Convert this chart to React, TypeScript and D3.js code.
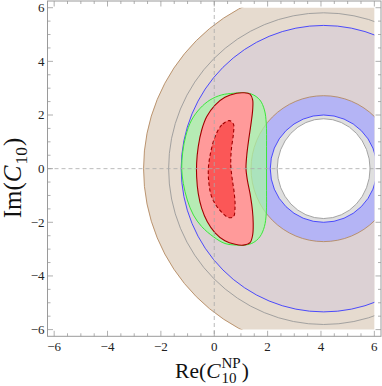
import React, { useEffect, useRef } from "react";
import * as d3 from "d3";

const width = 382;
const height = 386;

// rings are centred on -C10^SM on the real axis
const ringCenter: [number, number] = [4.1, 0];
const tanRadii = [2.72, 6.75];
const blueRadii = [2.0, 5.34];
const grayOuterRadius = 5.81;
const grayInnerRadii: [number, number] = [1.74, 1.86];

// contours, [Re, Im]
const greenBoundary: [number, number][] = [
  [1.03, 2.83], [1.4, 2.78], [1.71, 2.56], [1.88, 2.19], [1.95, 1.69], [1.96, 0.82],
  [1.96, 0.0], [1.96, -0.81], [1.95, -1.66], [1.88, -2.16], [1.71, -2.54], [1.46, -2.76],
  [1.15, -2.85], [0.84, -2.85], [0.4, -2.79], [-0.03, -2.54], [-0.47, -2.16], [-0.78, -1.73],
  [-1.01, -1.17], [-1.16, -0.55], [-1.22, 0.0], [-1.18, 0.63], [-1.06, 1.25], [-0.85, 1.81],
  [-0.53, 2.25], [-0.16, 2.56], [0.28, 2.75], [0.72, 2.81],
];

const redBoundary: [number, number][] = [
  [1.09, 2.83], [0.84, 2.81], [0.4, 2.66], [0.03, 2.37], [-0.28, 1.94], [-0.47, 1.44],
  [-0.6, 0.82], [-0.66, 0.2], [-0.66, -0.3], [-0.6, -0.92], [-0.47, -1.48], [-0.26, -1.98],
  [0.03, -2.39], [0.4, -2.69], [0.78, -2.82], [1.09, -2.85], [1.34, -2.76], [1.44, -2.47],
  [1.46, -2.04], [1.43, -1.54], [1.34, -0.92], [1.24, -0.42], [1.19, 0.01], [1.22, 0.51],
  [1.29, 1.07], [1.38, 1.69], [1.44, 2.19], [1.44, 2.56], [1.34, 2.78],
];

const redCoreBoundary: [number, number][] = [
  [0.57, 1.79], [0.28, 1.63], [0.03, 1.19], [-0.13, 0.63], [-0.22, 0.01], [-0.2, -0.55],
  [-0.1, -1.04], [0.15, -1.48], [0.53, -1.82], [0.72, -1.79], [0.78, -1.42], [0.75, -0.92],
  [0.67, -0.36], [0.62, 0.14], [0.64, 0.7], [0.72, 1.32], [0.72, 1.66],
];

const xTickLabels = [-6, -4, -2, 0, 2, 4, 6];
const yTickLabels = [-6, -4, -2, 0, 2, 4, 6];

const serif = "'Liberation Serif', 'DejaVu Serif', serif";

export default function App() {
  const ref = useRef<SVGSVGElement>(null);

  useEffect(() => {
    const svg = d3.select(ref.current);
    svg.selectAll("*").remove();

    const x = d3.scaleLinear().domain([-6.25, 6.25]).range([47.5, 381]);
    const y = d3.scaleLinear().domain([-6.25, 6.25]).range([336.3, 1]);

    svg
      .append("clipPath")
      .attr("id", "plotClip")
      .append("rect")
      .attr("x", x(-6))
      .attr("y", y(6))
      .attr("width", x(6) - x(-6))
      .attr("height", y(-6) - y(6));

    const g = svg.append("g").attr("clip-path", "url(#plotClip)");

    const [cx, cy] = ringCenter;
    const ellipse = (rx: number, ry: number, fill: string, stroke: string) =>
      g
        .append("ellipse")
        .attr("cx", x(cx))
        .attr("cy", y(cy))
        .attr("rx", x(cx + rx) - x(cx))
        .attr("ry", y(cy) - y(cy + ry))
        .attr("fill", fill)
        .attr("stroke", stroke)
        .attr("stroke-width", 0.9);

    // annuli, painted from the outside in
    ellipse(tanRadii[1], tanRadii[1], "#e6dbcf", "#b48a62");
    ellipse(blueRadii[1], blueRadii[1], "#dcd1d4", "none");
    ellipse(tanRadii[0], tanRadii[0], "#b4b4f5", "#b48a62");
    ellipse(blueRadii[0], blueRadii[0], "#dfdfdf", "none");
    ellipse(grayInnerRadii[0], grayInnerRadii[1], "#ffffff", "#9a9a9a");
    ellipse(grayOuterRadius, grayOuterRadius, "none", "#9a9a9a");
    ellipse(blueRadii[1], blueRadii[1], "none", "#3a3aff");
    ellipse(blueRadii[0], blueRadii[0], "none", "#3a3aff");

    const line = d3
      .line<[number, number]>()
      .x((d) => x(d[0]))
      .y((d) => y(d[1]))
      .curve(d3.curveCatmullRomClosed.alpha(0.5));

    g.append("path")
      .attr("d", line(greenBoundary))
      .attr("fill", "#a8f5a8")
      .attr("fill-opacity", 0.72)
      .attr("stroke", "#3ae63a")
      .attr("stroke-width", 1);

    g.append("path")
      .attr("d", line(redBoundary))
      .attr("fill", "#ff9a9a")
      .attr("stroke", "#a00000")
      .attr("stroke-width", 1.1);

    g.append("path")
      .attr("d", line(redCoreBoundary))
      .attr("fill", "#fb5757")
      .attr("stroke", "#a00000")
      .attr("stroke-width", 1.1)
      .attr("stroke-dasharray", "3.5,2.5");

    // dashed zero lines
    svg
      .append("line")
      .attr("x1", x(0))
      .attr("x2", x(0))
      .attr("y1", y(6.25))
      .attr("y2", y(-6.25))
      .attr("stroke", "#aaaaaa")
      .attr("stroke-width", 0.8)
      .attr("stroke-dasharray", "4,3");
    svg
      .append("line")
      .attr("x1", x(-6.25))
      .attr("x2", x(6.25))
      .attr("y1", y(0))
      .attr("y2", y(0))
      .attr("stroke", "#aaaaaa")
      .attr("stroke-width", 0.8)
      .attr("stroke-dasharray", "4,3");

    // frame
    const frameColor = "#9a9a9a";
    svg
      .append("rect")
      .attr("x", x(-6.25))
      .attr("y", y(6.25))
      .attr("width", x(6.25) - x(-6.25))
      .attr("height", y(-6.25) - y(6.25))
      .attr("fill", "none")
      .attr("stroke", frameColor)
      .attr("stroke-width", 1);

    const minorX = x.ticks(25);
    const minorY = y.ticks(25);
    const ticks = svg.append("g").attr("stroke", frameColor).attr("stroke-width", 0.8);
    const len = (v: number) => (v % 2 === 0 ? 5.5 : 3);

    minorX.forEach((v) => {
      ticks.append("line").attr("x1", x(v)).attr("x2", x(v)).attr("y1", y(-6.25)).attr("y2", y(-6.25) - len(v));
      ticks.append("line").attr("x1", x(v)).attr("x2", x(v)).attr("y1", y(6.25)).attr("y2", y(6.25) + len(v));
    });
    minorY.forEach((v) => {
      ticks.append("line").attr("y1", y(v)).attr("y2", y(v)).attr("x1", x(-6.25)).attr("x2", x(-6.25) + len(v));
      ticks.append("line").attr("y1", y(v)).attr("y2", y(v)).attr("x1", x(6.25)).attr("x2", x(6.25) - len(v));
    });

    const fmt = (v: number) => (v < 0 ? `\u2212${-v}` : `${v}`);

    svg
      .append("g")
      .selectAll("text")
      .data(xTickLabels)
      .join("text")
      .attr("x", (d) => x(d))
      .attr("y", 351)
      .attr("text-anchor", "middle")
      .attr("font-family", serif)
      .attr("font-size", 13)
      .attr("fill", "#222")
      .text(fmt);

    svg
      .append("g")
      .selectAll("text")
      .data(yTickLabels)
      .join("text")
      .attr("x", 44.5)
      .attr("y", (d) => y(d) + 4.4)
      .attr("text-anchor", "end")
      .attr("font-family", serif)
      .attr("font-size", 13)
      .attr("fill", "#222")
      .text(fmt);

    // axis titles: prefix + italic C + stacked sub/superscript + ")"
    const title = (
      parent: d3.Selection<SVGGElement, unknown, null, undefined>,
      size: number,
      prefix: string,
      sup: string | null,
      sub: string
    ) => {
      const small = size * 0.7;
      const main = parent
        .append("text")
        .attr("font-family", serif)
        .attr("font-size", size)
        .attr("fill", "#111");
      main.append("tspan").text(prefix);
      main.append("tspan").attr("font-style", "italic").text("C");
      const w1 = (main.node() as SVGTextElement).getComputedTextLength() + 1;
      let wScript = 0;
      if (sup) {
        const t = parent
          .append("text")
          .attr("x", w1)
          .attr("y", -size * 0.45)
          .attr("font-family", serif)
          .attr("font-size", small)
          .attr("fill", "#111")
          .text(sup);
        wScript = Math.max(wScript, (t.node() as SVGTextElement).getComputedTextLength());
      }
      const s = parent
        .append("text")
        .attr("x", w1)
        .attr("y", size * 0.25)
        .attr("font-family", serif)
        .attr("font-size", small)
        .attr("fill", "#111")
        .text(sub);
      wScript = Math.max(wScript, (s.node() as SVGTextElement).getComputedTextLength());
      const close = parent
        .append("text")
        .attr("x", w1 + wScript + 1)
        .attr("font-family", serif)
        .attr("font-size", size)
        .attr("fill", "#111")
        .text(")");
      return w1 + wScript + 1 + (close.node() as SVGTextElement).getComputedTextLength();
    };

    const xTitle = svg.append("g");
    const wx = title(xTitle, 21.5, "Re(", "NP", "10");
    xTitle.attr("transform", `translate(${212 - wx / 2}, 378)`);

    const yTitle = svg.append("g");
    const wy = title(yTitle, 25, "Im(", null, "10");
    yTitle.attr("transform", `translate(21, 178) rotate(-90) translate(${-wy / 2}, 0)`);
  }, []);

  return (
    <svg
      ref={ref}
      width={width}
      height={height}
      style={{ position: "absolute", left: 0, top: 0, display: "block", background: "#fff" }}
    />
  );
}
